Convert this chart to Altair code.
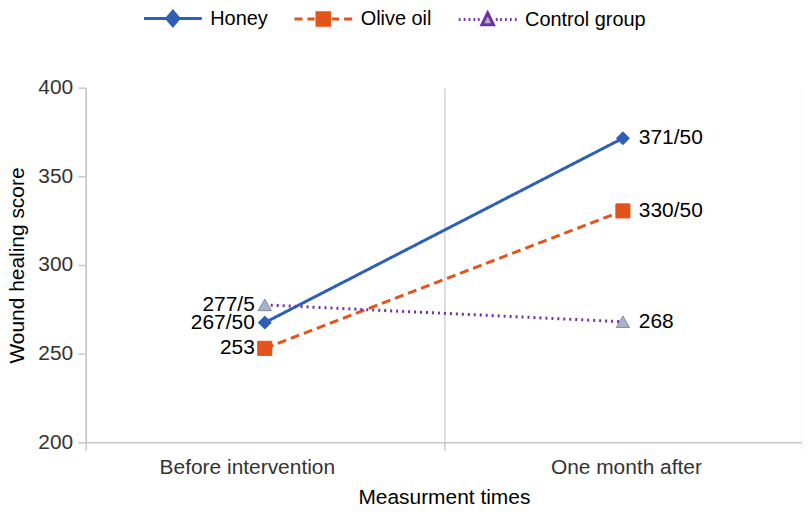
import altair as alt
import pandas as pd

times = ["Before intervention", "One month after"]
series = ["Honey", "Olive oil", "Control group"]
honey = [267.5, 371.5]
olive = [253, 330.5]
control = [277.5, 268]
honey_labels = ["267/50", "371/50"]
olive_labels = ["253", "330/50"]
control_labels = ["277/5", "268"]

line_colors = ["#2e5fb5", "#e2541c", "#7030a0"]
marker_fills = ["#2e5fb5", "#e2541c", "#a9b2c6"]
marker_strokes = ["#2e5fb5", "#e2541c", "#7f8fae"]
marker_shapes = ["diamond", "square", "triangle-up"]
marker_sizes = [170, 200, 180]
dashes = [[1, 0], [9, 5], [2, 4]]

legend_paths = [
    "M-1,0L1,0M0,-0.25L0.21,0L0,0.25L-0.21,0Z",
    "M-1,0L-0.72,0M-0.55,0L-0.3,0M0.3,0L0.55,0M0.72,0L1,0"
    "M-0.22,-0.22L0.22,-0.22L0.22,0.22L-0.22,0.22Z",
    "M-1,0L-0.94,0M-0.83,0L-0.77,0M-0.66,0L-0.6,0M-0.49,0L-0.43,0M-0.34,0L-0.28,0"
    "M0.28,0L0.34,0M0.43,0L0.49,0M0.6,0L0.66,0M0.77,0L0.83,0M0.94,0L1,0"
    "M0,-0.23L0.2,0.18L-0.2,0.18Z",
]

rows = []
for s, vals, labs in zip(series, [honey, olive, control], [honey_labels, olive_labels, control_labels]):
    for t, v, lab in zip(times, vals, labs):
        rows.append({"time": t, "series": s, "value": v, "label": lab})
df = pd.DataFrame(rows)

FONT = "Liberation Sans"

x_enc = alt.X(
    "time:N",
    sort=times,
    scale=alt.Scale(type="band", domain=times, paddingInner=0, paddingOuter=0),
    axis=alt.Axis(
        title="Measurment times",
        tickBand="extent",
        grid=True,
        gridColor="#d4d4d4",
        gridWidth=1.5,
        domainColor="#c8c8c8",
        domainWidth=1.5,
        tickColor="#c8c8c8",
        tickWidth=1.5,
        tickSize=8,
        labelAngle=0,
        labelFontSize=21,
        labelColor="#333333",
        labelPadding=6,
        labelOffset={"condition": {"test": "datum.value === 'Before intervention'", "value": -18}, "value": 3},
        titleFontSize=21,
        titleFontWeight="normal",
        titleColor="#000000",
        titlePadding=9,
    ),
)
y_enc = alt.Y(
    "value:Q",
    scale=alt.Scale(domain=[200, 400], nice=False, zero=False),
    axis=alt.Axis(
        title="Wound healing score",
        values=[200, 250, 300, 350, 400],
        grid=False,
        domainColor="#c8c8c8",
        domainWidth=1.5,
        tickColor="#c8c8c8",
        tickWidth=1.5,
        tickSize=8,
        labelFontSize=21,
        labelColor="#333333",
        labelPadding=5,
        titleFontSize=21,
        titleFontWeight="normal",
        titleColor="#000000",
        titlePadding=10,
    ),
)

layers = []
for s, lc, dsh in zip(series, line_colors, dashes):
    layers.append(
        alt.Chart(df).transform_filter(alt.datum.series == s).mark_line(
            strokeWidth=3, color=lc, strokeDash=dsh
        ).encode(x=x_enc, y=y_enc)
    )
for s, shp, fc, sc, sz in zip(series, marker_shapes, marker_fills, marker_strokes, marker_sizes):
    layers.append(
        alt.Chart(df).transform_filter(alt.datum.series == s).mark_point(
            shape=shp, filled=True, fill=fc, stroke=sc, strokeWidth=1, size=sz, opacity=1
        ).encode(x=x_enc, y=y_enc)
    )

leg = alt.Legend(title=None, orient="none", direction="horizontal", legendX=57, legendY=-100)
legend_layer = alt.Chart(df).transform_filter("false").mark_point(opacity=1, filled=False).encode(
    x=x_enc,
    y=y_enc,
    shape=alt.Shape("series:N", scale=alt.Scale(domain=series, range=legend_paths), legend=leg),
    fill=alt.Fill("series:N", scale=alt.Scale(domain=series, range=marker_fills), legend=leg),
    stroke=alt.Stroke("series:N", scale=alt.Scale(domain=series, range=line_colors), legend=leg),
)
layers.append(legend_layer)

left_text = alt.Chart(df).transform_filter(alt.datum.time == times[0]).mark_text(
    align="right", baseline="middle", dx=-10, fontSize=21, color="#000000", font=FONT
).encode(x=x_enc, y=y_enc, text="label:N")
right_text = alt.Chart(df).transform_filter(alt.datum.time == times[1]).mark_text(
    align="left", baseline="middle", dx=16, fontSize=21, color="#000000", font=FONT
).encode(x=x_enc, y=y_enc, text="label:N")
layers += [left_text, right_text]

chart = alt.layer(*layers).properties(
    width=719,
    height=356,
    autosize=alt.AutoSizeParams(type="none"),
    padding={"left": 78, "top": 79, "right": 0, "bottom": 75},
).configure_view(stroke=None).configure_axis(
    labelFont=FONT, titleFont=FONT
).configure_legend(
    padding=0,
    symbolSize=3364,
    symbolStrokeWidth=3,
    labelFont=FONT,
    labelFontSize=20,
    labelColor="#000000",
    labelOffset=7,
    columnPadding=20,
    labelLimit=300,
)

chart.save("out.html", embed_options={"renderer": "svg", "actions": False})
